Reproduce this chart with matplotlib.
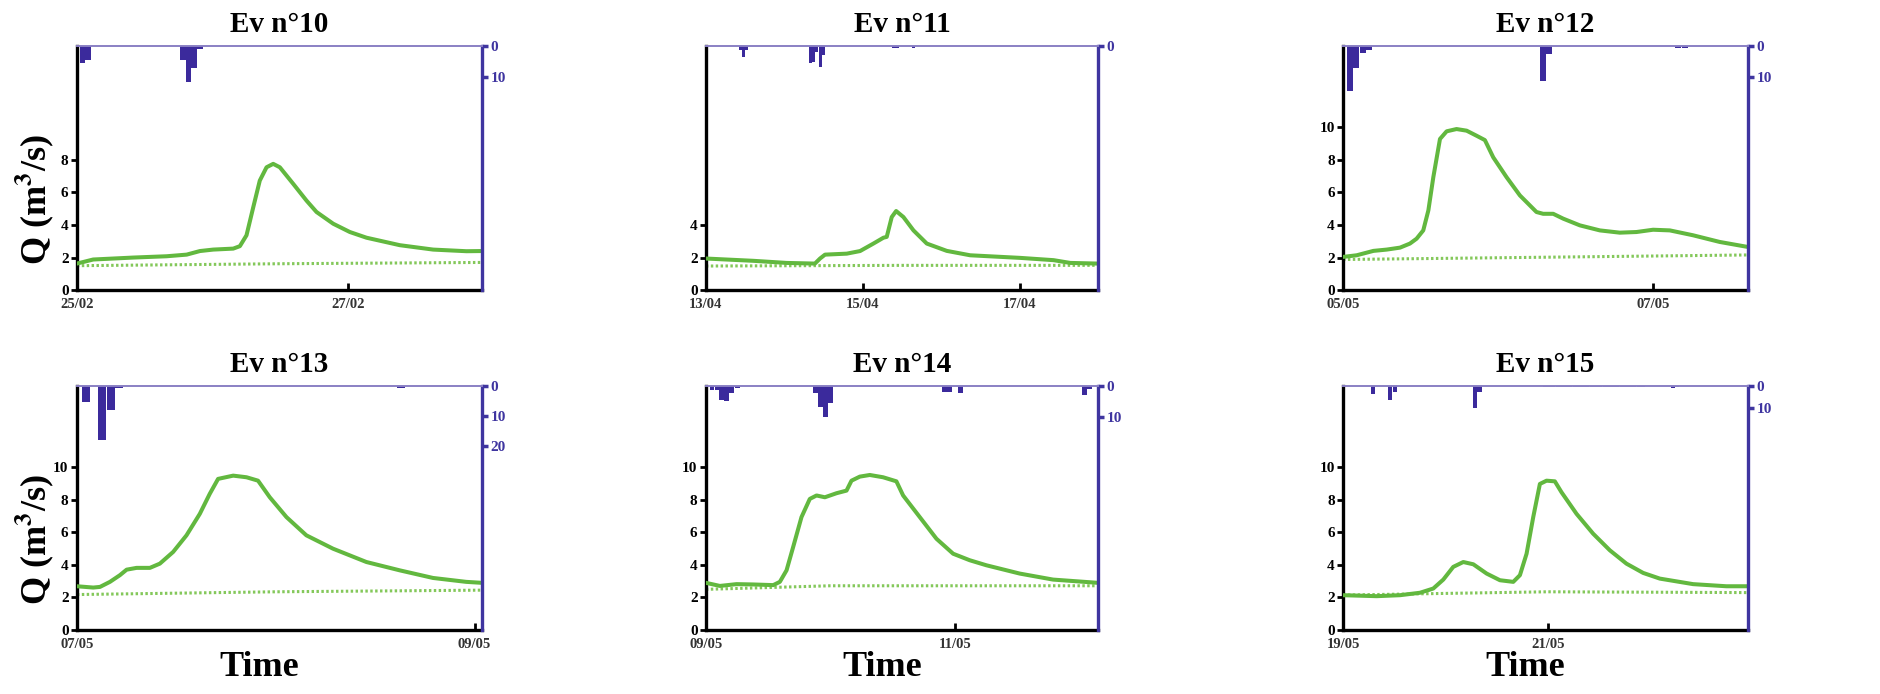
import matplotlib
matplotlib.use('Agg')
import matplotlib.pyplot as plt

plt.rcParams['font.family'] = ['Liberation Serif', 'DejaVu Serif']
plt.rcParams['font.weight'] = 'bold'
plt.rcParams['mathtext.fontset'] = 'stix'

GREEN = '#62b83f'
BASE_GREEN = '#84c85a'
RAIN = '#3b2a9c'
RAIN_AXIS = '#3f35a0'
TOP_LINE = '#8a80c4'

# --- Ev n°10 (days from 25/02) ---
ev10_t = [0, 0.12, 0.416, 0.662, 0.81, 0.908, 1.006, 1.154, 1.203, 1.252, 1.302, 1.35, 1.40,
          1.449, 1.498, 1.597, 1.695, 1.769, 1.892, 2.015, 2.138, 2.384, 2.63, 2.876, 2.987]
ev10_q = [1.63, 1.88, 2.0, 2.08, 2.18, 2.4, 2.49, 2.55, 2.7, 3.37, 5.1, 6.73, 7.55,
          7.76, 7.55, 6.53, 5.5, 4.8, 4.08, 3.57, 3.22, 2.76, 2.49, 2.39, 2.4]
ev10_base_t = [0, 1.5, 2.99]
ev10_base_q = [1.5, 1.62, 1.7]
ev10_rain_h = [0.5, 1.5, 18.3, 19.3, 20.3, 21.3]
ev10_rain_mm = [5.5, 4.5, 4.5, 11.5, 7.0, 1.0]
ev10_dates = [0, 2]
ev10_labels = ['25/02', '27/02']

# --- Ev n°11 (days from 13/04) ---
ev11_t = [0, 0.604, 1.03, 1.39, 1.455, 1.519, 1.796, 1.966, 2.136, 2.264, 2.306, 2.37, 2.426,
          2.519, 2.647, 2.817, 3.072, 3.37, 4.009, 4.434, 4.647, 5.0]
ev11_q = [1.94, 1.8, 1.67, 1.63, 1.94, 2.18, 2.24, 2.4, 2.86, 3.22, 3.27, 4.49, 4.86,
          4.49, 3.67, 2.86, 2.41, 2.14, 1.98, 1.84, 1.67, 1.63]
ev11_base_t = [0, 2.5, 5.0]
ev11_base_q = [1.48, 1.52, 1.52]
ev11_rain_h = [10, 11, 12, 31.5, 32.5, 33.5, 34.5, 35.5, 57, 58, 63]
ev11_rain_mm = [1.2, 3.4, 1.2, 5.5, 5.0, 2.0, 6.7, 3.0, 0.5, 0.5, 0.5]
ev11_dates = [0, 2, 4]
ev11_labels = ['13/04', '15/04', '17/04']

# --- Ev n°12 (days from 05/05) ---
ev12_t = [0, 0.088, 0.196, 0.282, 0.368, 0.432, 0.475, 0.518, 0.551, 0.583, 0.626, 0.669, 0.733,
          0.798, 0.862, 0.916, 0.97, 1.056, 1.142, 1.249, 1.292, 1.357, 1.422, 1.529, 1.658,
          1.787, 1.895, 2.002, 2.11, 2.26, 2.432, 2.615]
ev12_q = [2.04, 2.14, 2.41, 2.49, 2.61, 2.86, 3.16, 3.67, 4.9, 6.94, 9.29, 9.76, 9.9,
          9.8, 9.49, 9.22, 8.16, 6.94, 5.82, 4.8, 4.69, 4.69, 4.39, 3.98, 3.67,
          3.53, 3.57, 3.71, 3.67, 3.37, 2.96, 2.65]
ev12_base_t = [0, 1.3, 2.615]
ev12_base_q = [1.88, 2.02, 2.16]
ev12_rain_h = [0.6, 1.6, 2.6, 3.6, 30.5, 31.5, 51.5, 52.5]
ev12_rain_mm = [14.7, 7.2, 2.4, 1.3, 11.2, 2.6, 0.5, 0.6]
ev12_dates = [0, 2]
ev12_labels = ['05/05', '07/05']

# --- Ev n°13 (days from 07/05) ---
ev13_t = [0, 0.082, 0.116, 0.166, 0.216, 0.25, 0.3, 0.367, 0.417, 0.484, 0.551, 0.618, 0.668,
          0.71, 0.786, 0.853, 0.911, 0.97, 1.054, 1.154, 1.288, 1.456, 1.623, 1.791, 1.958, 2.037]
ev13_q = [2.69, 2.61, 2.65, 2.96, 3.37, 3.71, 3.82, 3.82, 4.08, 4.8, 5.82, 7.14, 8.37,
          9.29, 9.49, 9.39, 9.18, 8.16, 6.94, 5.82, 5.0, 4.18, 3.67, 3.2, 2.96, 2.9]
ev13_base_t = [0, 1.0, 2.037]
ev13_base_q = [2.18, 2.35, 2.45]
ev13_rain_h = [0.6, 2.6, 3.6, 4.6, 38.6]
ev13_rain_mm = [5.4, 18.0, 8.0, 0.6, 0.5]
ev13_dates = [0, 2]
ev13_labels = ['07/05', '09/05']

# --- Ev n°14 (days from 09/05) ---
ev14_t = [0, 0.112, 0.246, 0.38, 0.541, 0.594, 0.648, 0.701, 0.768, 0.835, 0.889, 0.956, 1.05,
          1.13, 1.17, 1.237, 1.317, 1.424, 1.531, 1.585, 1.719, 1.853, 1.987, 2.12, 2.254,
          2.522, 2.79, 3.151]
ev14_q = [2.9, 2.71, 2.82, 2.8, 2.76, 2.96, 3.67, 5.1, 6.94, 8.06, 8.27, 8.16, 8.41,
          8.57, 9.18, 9.43, 9.53, 9.39, 9.14, 8.27, 6.94, 5.61, 4.69, 4.29, 3.98,
          3.47, 3.1, 2.9]
ev14_base_t = [0, 1.0, 3.151]
ev14_base_q = [2.5, 2.72, 2.72]
ev14_rain_h = [0.7, 1.7, 2.6, 3.5, 4.5, 5.6, 20.6, 21.6, 22.6, 23.6, 45.6, 46.6, 48.6, 72.5, 73.5]
ev14_rain_mm = [1.3, 1.3, 4.5, 5.0, 2.4, 0.5, 2.4, 6.7, 10.0, 5.4, 1.8, 1.8, 2.4, 2.9, 1.0]
ev14_dates = [0, 2]
ev14_labels = ['09/05', '11/05']

# --- Ev n°15 (days from 19/05) ---
ev15_t = [0, 0.328, 0.556, 0.751, 0.881, 0.979, 1.076, 1.174, 1.272, 1.402, 1.532, 1.662, 1.727,
          1.792, 1.857, 1.922, 1.987, 2.068, 2.133, 2.28, 2.442, 2.605, 2.767, 2.93, 3.093,
          3.418, 3.743, 3.954]
ev15_q = [2.14, 2.08, 2.14, 2.29, 2.55, 3.1, 3.88, 4.18, 4.04, 3.47, 3.06, 2.96, 3.37,
          4.69, 6.94, 8.98, 9.18, 9.14, 8.47, 7.14, 5.92, 4.9, 4.08, 3.51, 3.16,
          2.82, 2.69, 2.69]
ev15_base_t = [0, 2.0, 3.954]
ev15_base_q = [2.15, 2.35, 2.3]
ev15_rain_h = [6.5, 10.6, 11.6, 30.5, 31.5,
               46.8, 47.8, 48.8, 49.8, 50.8, 51.8, 52.8, 53.8, 54.8, 55.8, 56.8, 57.8,
               58.8, 59.8, 60.8, 61.8, 62.8, 63.8, 64.8, 65.8, 66.8, 67.8, 68.8, 69.8,
               76.8, 77.8]
ev15_rain_mm = [3.6, 6.4, 2.6, 10.0, 2.6,
                0.4, 0.5, 0.6, 0.5, 0.5, 0.4, 0.6, 0.5, 0.5, 0.6, 0.4, 0.5,
                0.5, 0.6, 0.5, 0.4, 0.5, 0.5, 0.6, 0.5, 0.4, 0.5, 0.5, 0.4,
                1.0, 0.6]
ev15_dates = [0, 2]
ev15_labels = ['19/05', '21/05']

events = [
    ('Ev n°10', ev10_t, ev10_q, ev10_base_t, ev10_base_q, ev10_rain_h, ev10_rain_mm,
     ev10_dates, ev10_labels, 2.99, [0, 2, 4, 6, 8], 79, [0, 10]),
    ('Ev n°11', ev11_t, ev11_q, ev11_base_t, ev11_base_q, ev11_rain_h, ev11_rain_mm,
     ev11_dates, ev11_labels, 5.0, [0, 2, 4], 79, [0]),
    ('Ev n°12', ev12_t, ev12_q, ev12_base_t, ev12_base_q, ev12_rain_h, ev12_rain_mm,
     ev12_dates, ev12_labels, 2.615, [0, 2, 4, 6, 8, 10], 79, [0, 10]),
    ('Ev n°13', ev13_t, ev13_q, ev13_base_t, ev13_base_q, ev13_rain_h, ev13_rain_mm,
     ev13_dates, ev13_labels, 2.037, [0, 2, 4, 6, 8, 10], 81, [0, 10, 20]),
    ('Ev n°14', ev14_t, ev14_q, ev14_base_t, ev14_base_q, ev14_rain_h, ev14_rain_mm,
     ev14_dates, ev14_labels, 3.151, [0, 2, 4, 6, 8, 10], 79, [0, 10]),
    ('Ev n°15', ev15_t, ev15_q, ev15_base_t, ev15_base_q, ev15_rain_h, ev15_rain_mm,
     ev15_dates, ev15_labels, 3.954, [0, 2, 4, 6, 8, 10], 111, [0, 10]),
]

fig = plt.figure(figsize=(18.81, 6.94), dpi=100)
lefts = [0.0409, 0.3753, 0.714]
widths = [0.2153, 0.2084, 0.2153]
bottoms = [0.582, 0.0922]
height = 0.3516

for i, ev in enumerate(events):
    (title, t, q, bt, bq, rh, rmm, dpos, dlab, span, yticks, rmax, rticks) = ev
    row, col = divmod(i, 3)
    ax = fig.add_axes([lefts[col], bottoms[row], widths[col], height])
    ax.plot(t, q, color=GREEN, lw=2.9, solid_capstyle='round', solid_joinstyle='round',
            zorder=3)
    ax.plot(bt, bq, color=BASE_GREEN, lw=2.2, ls=(0, (0.8, 0.8)), zorder=2)
    ax.set_xlim(0, span)
    ax.set_ylim(0, 15)
    ax.set_yticks(yticks)
    ax.set_xticks(dpos)
    ax.set_xticklabels(dlab)
    ax.tick_params(axis='y', direction='out', length=4, width=2, labelsize=11, pad=2)
    ax.tick_params(axis='x', direction='in', length=5, width=2, labelsize=10.5, pad=6,
                   labelcolor='#333333')
    for s in ['top', 'right']:
        ax.spines[s].set_visible(False)
    for s in ['left', 'bottom']:
        ax.spines[s].set_linewidth(2.4)
        ax.spines[s].set_color('black')
    ax.set_title(title, fontsize=21, fontweight='bold', pad=10)

    ax2 = ax.twinx()
    ax2.bar([h / 24 for h in rh], rmm, width=1 / 24 * 0.95, align='edge',
            color=RAIN, edgecolor='none', zorder=1)
    ax2.set_ylim(rmax, 0)
    ax2.set_xlim(0, span)
    ax2.set_yticks(rticks)
    ax2.tick_params(axis='y', direction='out', length=4, width=2.5, labelsize=11,
                    colors=RAIN_AXIS, pad=2)
    ax2.spines['left'].set_visible(False)
    ax2.spines['bottom'].set_visible(False)
    ax2.spines['right'].set_color(RAIN_AXIS)
    ax2.spines['right'].set_linewidth(2.4)
    ax2.spines['top'].set_color(TOP_LINE)
    ax2.spines['top'].set_linewidth(1.4)

    if col == 0:
        ax.set_ylabel(r'Q (m$^{\mathbf{3}}$/s)', fontsize=26, fontweight='bold',
                      va='center')
        ax.yaxis.set_label_coords(-0.105, 0.37)
    if row == 1:
        ax.set_xlabel('Time', fontsize=26, fontweight='bold', va='baseline')
        ax.xaxis.set_label_coords(0.45, -0.19)

fig.savefig('out.png', dpi=100, facecolor='white')
